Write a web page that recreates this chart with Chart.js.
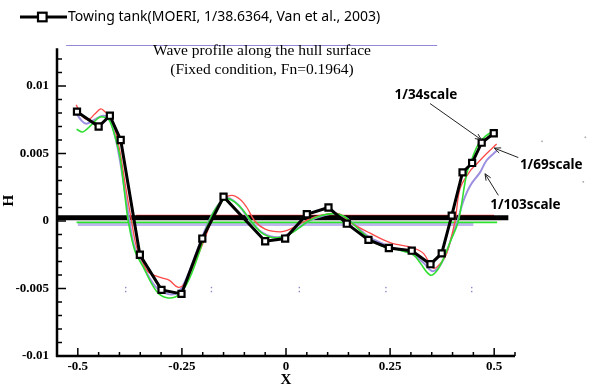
<!DOCTYPE html>
<html><head><meta charset="utf-8">
<script src="https://cdn.jsdelivr.net/npm/chart.js@4/dist/chart.umd.min.js"></script>
<style>html,body{margin:0;padding:0;background:#fff;}#wrap{width:594px;height:387px;}</style>
</head><body><div id="wrap"><canvas id="c" width="594" height="387"></canvas></div>
<script>
// ---- data ----
const towX=[-0.502,-0.450,-0.423,-0.397,-0.351,-0.299,-0.251,-0.201,-0.150,-0.050,-0.002,0.050,0.102,0.146,0.198,0.247,0.302,0.347,0.374,0.398,0.424,0.447,0.470,0.499];
const towY=[0.0081,0.0070,0.0078,0.0060,-0.0025,-0.0051,-0.0054,-0.0013,0.0018,-0.0015,-0.0013,0.0005,0.0010,-0.0002,-0.0014,-0.0020,-0.0022,-0.0032,-0.0024,0.0004,0.0036,0.0043,0.0058,0.0065];

const s34X=[-0.503,-0.488,-0.468,-0.447,-0.430,-0.423,-0.411,-0.399,-0.387,-0.379,-0.363,-0.343,-0.311,-0.283,-0.255,-0.231,-0.207,-0.187,-0.165,-0.143,-0.123,-0.103,-0.082,-0.055,-0.022,0.010,0.034,0.054,0.085,0.114,0.135,0.154,0.186,0.226,0.265,0.306,0.322,0.346,0.362,0.378,0.395,0.414,0.434,0.448,0.462,0.480,0.494];
const s34Y=[0.0068,0.0066,0.0071,0.0077,0.0076,0.0074,0.0063,0.0048,0.0019,0.0,-0.0022,-0.0034,-0.0052,-0.0057,-0.0054,-0.0042,-0.0022,-0.0002,0.0011,0.00165,0.0014,0.0008,-0.0001,-0.00095,-0.00125,-0.00095,-0.00046,0.0,0.0004,0.00055,0.0004,0.0,-0.00095,-0.0018,-0.0021,-0.0025,-0.0031,-0.0040,-0.0037,-0.0028,-0.0015,0.0,0.0035,0.0047,0.0057,0.0063,0.0066];

const s69X=[-0.504,-0.490,-0.475,-0.460,-0.445,-0.435,-0.423,-0.410,-0.398,-0.385,-0.371,-0.360,-0.345,-0.330,-0.300,-0.280,-0.260,-0.245,-0.225,-0.200,-0.179,-0.155,-0.131,-0.110,-0.094,-0.075,-0.050,-0.014,0.010,0.046,0.080,0.126,0.154,0.202,0.250,0.306,0.330,0.354,0.372,0.386,0.406,0.418,0.442,0.454,0.482,0.506];
const s69Y=[0.0086,0.0078,0.0075,0.0079,0.0083,0.0081,0.0078,0.0067,0.0050,0.0025,0.0,-0.0018,-0.0030,-0.0038,-0.0042,-0.0044,-0.0049,-0.0047,-0.0035,-0.0017,0.0,0.0015,0.0019,0.0016,0.0010,0.0,-0.0006,-0.0008,-0.0006,0.0,0.0004,0.00055,-0.0001,-0.0009,-0.0016,-0.0020,-0.0024,-0.0035,-0.0031,-0.0024,0.0,0.0024,0.0037,0.0041,0.0050,0.0057];

const s103X=[-0.504,-0.490,-0.479,-0.460,-0.440,-0.425,-0.413,-0.400,-0.387,-0.376,-0.365,-0.345,-0.315,-0.285,-0.260,-0.240,-0.215,-0.185,-0.160,-0.140,-0.115,-0.085,-0.055,-0.020,0.010,0.035,0.055,0.090,0.118,0.140,0.158,0.200,0.250,0.300,0.330,0.350,0.365,0.382,0.398,0.412,0.425,0.442,0.466,0.482,0.506];
const s103Y=[0.0080,0.0074,0.0072,0.0075,0.0078,0.0076,0.0066,0.0047,0.0022,0.0,-0.0018,-0.0032,-0.0048,-0.0054,-0.0053,-0.0043,-0.0023,0.0,0.0013,0.0017,0.0012,0.0,-0.0009,-0.0012,-0.0009,-0.0004,0.0,0.0004,0.00055,0.0003,-0.0001,-0.0012,-0.0019,-0.0024,-0.0031,-0.0037,-0.0035,-0.0026,-0.0012,0.0,0.0014,0.0026,0.0036,0.0045,0.0052];

// reference lines near H = 0 and along the top
const zeroBlackX=[-0.55,0.534], zeroBlackY=[0.00025,0.00025];
const zeroRedX=[-0.36,0.50], zeroRedY=[0.00042,0.00042];
const zeroGreenX=[-0.503,0.507], zeroGreenY=[-0.0001,-0.0001];
const zeroPurpleX=[-0.50,0.45], zeroPurpleY=[-0.00025,-0.00025];
const topLineX=[-0.528,0.363], topLineY=[0.013,0.013];

// stray marks
const strayX=[-0.385,-0.179,0.032,0.240,0.446,0.615,0.719,0.714];
const strayY=[-0.0051,-0.0051,-0.0051,-0.0051,-0.0051,0.0059,0.0062,0.0029];

// axis ticks
const xTickValues=[-0.5,-0.25,0,0.25,0.5];
const yTickValues=[-0.01,-0.005,0,0.005,0.01];

// annotations
const annoLabels=["1/34scale","1/69scale","1/103scale"];
const annoX=[0.336,0.637,0.575], annoY=[0.0093,0.0041,0.0012];
const arrFromX=[0.346,0.558,0.510], arrFromY=[0.0087,0.0047,0.0019];
const arrToX=[0.470,0.500,0.478], arrToY=[0.0060,0.0054,0.0035];

const legendLabel="Towing tank(MOERI, 1/38.6364, Van et al., 2003)";
const titleLines=["Wave profile along the hull surface","(Fixed condition, Fn=0.1964)"];

function pts(xs,ys){return xs.map((x,i)=>({x:x,y:ys[i]}));}

const plain={pointRadius:0,fill:false,tension:0};
const datasets=[
  Object.assign({label:'topline',data:pts(topLineX,topLineY),borderColor:'#9487d6',borderWidth:1.2,clip:false,order:9},plain),
  Object.assign({label:'zp',data:pts(zeroPurpleX,zeroPurpleY),borderColor:'#c0b6ee',borderWidth:3,order:8},plain),
  Object.assign({label:'zr',data:pts(zeroRedX,zeroRedY),borderColor:'#ff4040',borderWidth:1.3,order:7},plain),
  Object.assign({label:'zg',data:pts(zeroGreenX,zeroGreenY),borderColor:'#2ee02e',borderWidth:1.6,order:6},plain),
  Object.assign({label:'zb',data:pts(zeroBlackX,zeroBlackY),borderColor:'#000',borderWidth:5,order:5},plain),
  {label:'1/103scale',data:pts(s103X,s103Y),borderColor:'#9d8fe0',borderWidth:2,pointRadius:0,tension:0.35,order:4},
  {label:'1/69scale',data:pts(s69X,s69Y),borderColor:'#ff4a4a',borderWidth:1.3,pointRadius:0,tension:0.35,order:3},
  {label:'1/34scale',data:pts(s34X,s34Y),borderColor:'#30e030',borderWidth:1.6,pointRadius:0,tension:0.35,order:2},
  {label:legendLabel,data:pts(towX,towY),borderColor:'#000',borderWidth:3,tension:0,
   pointStyle:'rect',pointRadius:4.3,pointBorderWidth:2.2,pointBackgroundColor:'#fff',pointBorderColor:'#000',order:1}
];

const serif='"Liberation Serif","DejaVu Serif",serif';
const sans='"Noto Sans","Liberation Sans",sans-serif';

const decor={
  id:'decor',
  afterDraw(chart){
    const ctx=chart.ctx, xs=chart.scales.x, ys=chart.scales.y;
    const X=v=>xs.getPixelForValue(v), Y=v=>ys.getPixelForValue(v);
    ctx.save();
    // axes
    ctx.strokeStyle='#000'; ctx.lineWidth=2.5; ctx.lineCap='butt';
    const x0=X(-0.55), yb=Y(-0.01);
    ctx.beginPath(); ctx.moveTo(x0-1,yb); ctx.lineTo(X(0.55),yb); ctx.stroke();
    ctx.beginPath(); ctx.moveTo(x0,yb+1); ctx.lineTo(x0,Y(0.0128)); ctx.stroke();
    // x ticks (inward)
    ctx.lineWidth=1.5;
    for(let k=-10;k<=11;k++){
      const v=k*0.05; const major=(k%5===0); const len=major?8:4;
      ctx.beginPath(); ctx.moveTo(X(v),yb); ctx.lineTo(X(v),yb-len); ctx.stroke();
    }
    // y ticks (inward)
    for(let k=-9;k<=12;k++){
      const v=k*0.001; const major=(k%5===0); const len=major?9:5;
      ctx.beginPath(); ctx.moveTo(x0,Y(v)); ctx.lineTo(x0+len,Y(v)); ctx.stroke();
    }
    // stray marks
    strayX.forEach((sx,i)=>{
      const px=X(sx), py=Y(strayY[i]);
      if(i<5){ctx.fillStyle='#8f86c8'; ctx.fillRect(px-0.7,py-3,1.4,1.4); ctx.fillRect(px-0.7,py+1,1.4,1.4);}
      else {ctx.fillStyle='#aaa'; ctx.fillRect(px-0.8,py-0.8,1.6,1.6);}
    });
    // title
    ctx.fillStyle='#000'; ctx.textAlign='center'; ctx.textBaseline='middle';
    ctx.font='15.5px '+serif;
    ctx.fillText(titleLines[0],262,51);
    ctx.fillText(titleLines[1],262,70);
    // annotations
    ctx.font='bold 13.5px '+sans;
    annoLabels.forEach((t,i)=>{ ctx.fillText(t,X(annoX[i]),Y(annoY[i])); });
    ctx.lineWidth=1; ctx.strokeStyle='#222';
    annoLabels.forEach((t,i)=>{
      const ax=X(arrFromX[i]), ay=Y(arrFromY[i]), bx=X(arrToX[i]), by=Y(arrToY[i]);
      ctx.beginPath(); ctx.moveTo(ax,ay); ctx.lineTo(bx,by); ctx.stroke();
      const a=Math.atan2(by-ay,bx-ax), h=7;
      ctx.beginPath();
      ctx.moveTo(bx-h*Math.cos(a-0.4),by-h*Math.sin(a-0.4)); ctx.lineTo(bx,by);
      ctx.lineTo(bx-h*Math.cos(a+0.4),by-h*Math.sin(a+0.4)); ctx.stroke();
    });
    // legend
    const ly=17;
    ctx.strokeStyle='#000'; ctx.lineWidth=3;
    ctx.beginPath(); ctx.moveTo(20,ly); ctx.lineTo(67,ly); ctx.stroke();
    ctx.fillStyle='#fff'; ctx.lineWidth=2.2;
    ctx.fillRect(38,ly-4.3,8.6,8.6); ctx.strokeRect(38,ly-4.3,8.6,8.6);
    ctx.fillStyle='#000'; ctx.textAlign='left'; ctx.font='14px '+sans;
    ctx.fillText(legendLabel,68,ly);
    ctx.restore();
  }
};

new Chart(document.getElementById('c'),{
  type:'line',
  data:{datasets:datasets},
  options:{
    responsive:false, animation:false, devicePixelRatio:1,
    layout:{padding:{top:45.5,right:79,left:0,bottom:0}},
    plugins:{legend:{display:false},tooltip:{enabled:false},title:{display:false}},
    scales:{
      x:{type:'linear',min:-0.55,max:0.55,
         grid:{display:false,drawTicks:false},border:{display:false},
         afterBuildTicks:s=>{s.ticks=xTickValues.map(v=>({value:v}));},
         afterFit:s=>{s.height=31;},
         ticks:{color:'#000',padding:3,maxRotation:0,autoSkip:false,font:{family:serif,size:13,weight:'bold'},callback:v=>String(v)},
         title:{display:true,text:'X',color:'#000',font:{family:serif,size:15,weight:'bold'},padding:{top:0,bottom:-2}}},
      y:{type:'linear',min:-0.01,max:0.013,
         grid:{display:false,drawTicks:false},border:{display:false},
         afterBuildTicks:s=>{s.ticks=yTickValues.map(v=>({value:v}));},
         afterFit:s=>{s.width=57;},
         ticks:{color:'#000',padding:8,autoSkip:false,font:{family:serif,size:13,weight:'bold'},callback:v=>String(v)},
         title:{display:true,text:'H',color:'#000',font:{family:serif,size:15,weight:'bold'},padding:{top:0,bottom:6}}}
    }
  },
  plugins:[decor]
});
</script></body></html>
